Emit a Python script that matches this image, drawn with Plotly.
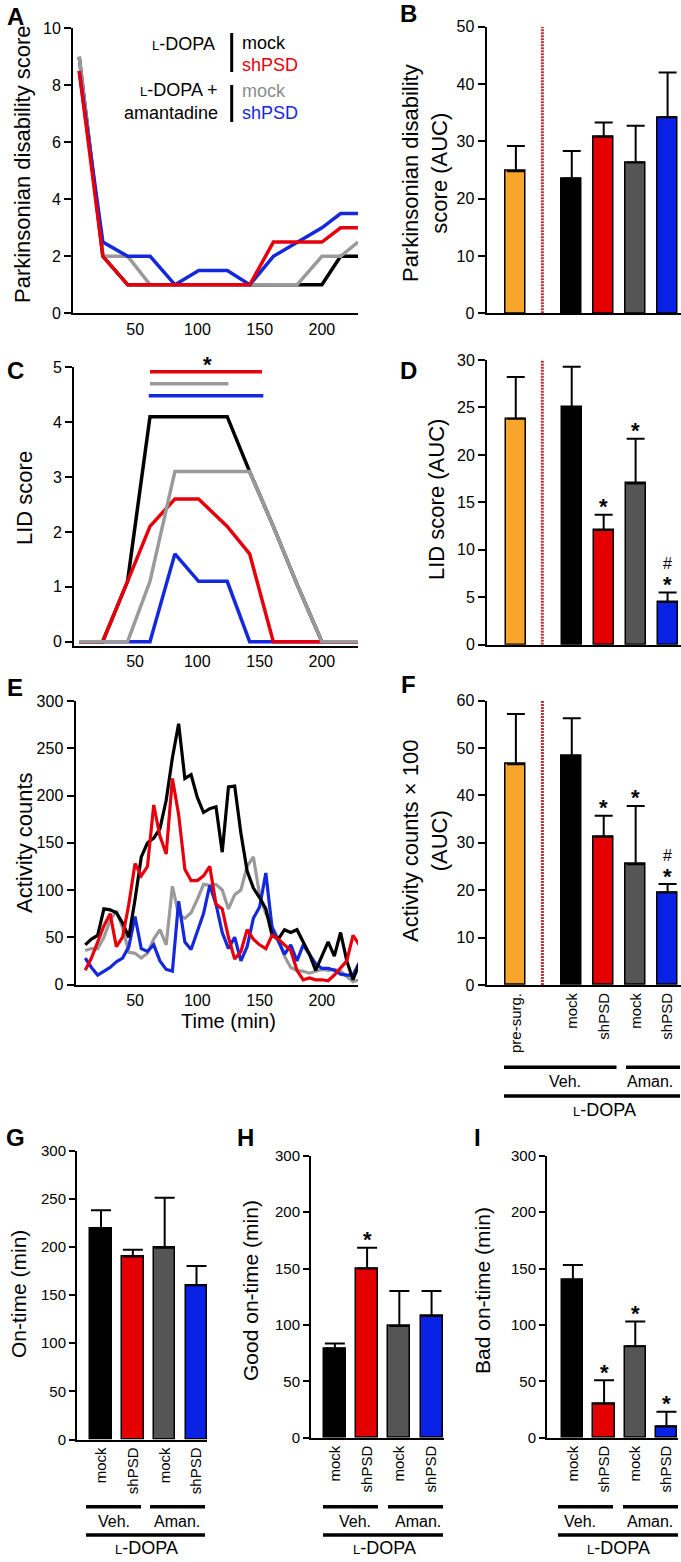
import plotly.graph_objects as go

W, H = 681, 1562
FONT = "Liberation Sans, Arial, Helvetica, sans-serif"

# ---------------- data: time courses ----------------
score_time = [5, 24, 44, 62, 82, 101, 124, 142, 161, 180, 200, 215, 229]
pd_veh_mock = [9, 2, 1, 1, 1, 1, 1, 1, 1, 1, 1, 2, 2]
pd_veh_shpsd = [8.5, 2, 1, 1, 1, 1, 1, 1, 2.5, 2.5, 2.5, 3, 3]
pd_aman_mock = [9, 2, 2, 1, 1, 1, 1, 1, 1, 1, 2, 2, 2.5]
pd_aman_shpsd = [8.5, 2.5, 2, 2, 1, 1.5, 1.5, 1, 2, 2.5, 3, 3.5, 3.5]

lid_veh_mock = [0, 0, 1.1, 4.1, 4.1, 4.1, 4.1, 3.1, 2.1, 1.05, 0, 0, 0]
lid_veh_shpsd = [0, 0, 1.1, 2.1, 2.6, 2.6, 2.1, 1.6, 0, 0, 0, 0, 0]
lid_aman_mock = [0, 0, 0, 1.1, 3.1, 3.1, 3.1, 3.1, 2.1, 1.05, 0, 0, 0]
lid_aman_shpsd = [0, 0, 0, 0, 1.6, 1.1, 1.1, 0, 0, 0, 0, 0, 0]

# significant time spans (min) in the LID time course, and their bar levels
lid_sig_span = {"veh_shpsd": [62, 152], "aman_mock": [62, 125], "aman_shpsd": [61, 153]}
lid_sig_level = {"veh_shpsd": 4.92, "aman_mock": 4.70, "aman_shpsd": 4.48}
lid_sig_star = [103, 5.12]

act_time = [10, 15, 20, 25, 30, 35, 40, 45, 50, 55, 60, 65, 70, 75, 80, 85, 90, 95,
            100, 105, 110, 115, 120, 125, 130, 135, 140, 145, 150, 155, 160, 165,
            170, 175, 180, 185, 190, 195, 200, 205, 210, 215, 220, 225, 230]
act_veh_mock = [42, 48, 52, 80, 79, 76, 65, 50, 90, 135, 150, 155, 165, 195, 240, 276,
                218, 222, 198, 182, 186, 188, 140, 209, 210, 160, 120, 102, 92, 80,
                52, 48, 58, 55, 58, 45, 32, 15, 30, 45, 30, 55, 25, 5, 22]
act_veh_shpsd = [15, 28, 45, 62, 75, 40, 50, 85, 128, 115, 125, 190, 157, 138, 218, 180,
                 122, 110, 110, 115, 125, 85, 80, 50, 27, 35, 58, 48, 42, 38,
                 52, 48, 42, 36, 15, 5, 7, 5, 5, 4, 10, 18, 25, 52, 42]
act_aman_mock = [36, 38, 38, 50, 68, 78, 60, 34, 33, 28, 33, 48, 58, 42, 104, 74,
                 70, 76, 90, 106, 105, 106, 100, 80, 95, 100, 125, 135, 95, 75,
                 62, 48, 30, 18, 15, 14, 12, 14, 16, 15, 16, 14, 8, 3, 5]
act_aman_shpsd = [28, 18, 10, 14, 18, 24, 28, 40, 72, 38, 35, 42, 25, 16, 14, 88,
                  45, 37, 55, 75, 105, 85, 55, 38, 50, 25, 40, 70, 82, 118,
                  60, 45, 32, 42, 25, 42, 32, 22, 17, 17, 15, 11, 10, 10, 23]

# ---------------- data: AUC bars ----------------
auc_groups = ["pre-surg.", "mock", "shPSD", "mock", "shPSD"]
pd_auc = [24.8, 23.5, 30.8, 26.3, 34.2]
pd_auc_sem = [4.4, 4.8, 2.5, 6.4, 7.8]
lid_auc = [23.8, 25.0, 12.1, 17.0, 4.5]
lid_auc_sem = [4.4, 4.3, 1.6, 4.7, 1.0]
lid_auc_sig = ["", "", "*", "*", "*#"]
act_auc = [46.6, 48.3, 31.3, 25.5, 19.5]
act_auc_sem = [10.6, 8.0, 4.4, 12.3, 1.8]
act_auc_sig = ["", "", "*", "*", "*#"]

ontime_groups = ["mock", "shPSD", "mock", "shPSD"]
on_time = [219, 190, 199, 160]
on_time_sem = [19, 7, 52, 20]
good_on = [79, 150, 99, 108]
good_on_sem = [4.4, 18.5, 31, 22]
good_on_sig = ["", "*", "", ""]
bad_on = [140, 30, 81, 10]
bad_on_sem = [13, 21, 22, 13]
bad_on_sig = ["", "*", "*", "*"]

# ---------------- styling / layout constants ----------------
BLACK, RED, GRAY, BLUE = "#000000", "#e6000c", "#9a9a9a", "#1428dc"
BAR_COLORS = ["#f8a62b", "#000000", "#e40000", "#555555", "#0a22e6"]
AUC_POS = [0, 1.75, 2.75, 3.75, 4.75]
DIVIDER = 0.83
ON_POS = [0, 1, 2, 3]

fig = go.Figure()


def xd(l, r):
    return [l / W, r / W]


def yd(t, b):
    return [1 - b / H, 1 - t / H]


def px(x):
    return x / W


def py(y):
    return 1 - y / H


def add_line(ax, x, y, color, width):
    fig.add_trace(go.Scatter(x=x, y=y, mode="lines", line=dict(color=color, width=width),
                             xaxis="x" + ax, yaxis="y" + ax, showlegend=False, hoverinfo="skip"))


def add_bars(ax, pos, vals, sems, colors, width, capw):
    fig.add_trace(go.Bar(x=pos, y=vals, width=width,
                         marker=dict(color=colors, line=dict(color="black", width=1.5)),
                         error_y=dict(type="data", array=sems, arrayminus=[0] * len(sems),
                                      symmetric=False, color="black", thickness=2, width=capw),
                         xaxis="x" + ax, yaxis="y" + ax, showlegend=False, hoverinfo="skip"))


def add_marks(ax, pos, vals, sems, marks):
    for p, v, s, m in zip(pos, vals, sems, marks):
        if "*" in m:
            fig.add_annotation(text="<b>*</b>", x=p, y=v + s, xref="x" + ax, yref="y" + ax,
                               showarrow=False, yanchor="middle", yshift=8,
                               font=dict(family=FONT, size=22, color="black"))
        if "#" in m:
            fig.add_annotation(text="#", x=p, y=v + s, xref="x" + ax, yref="y" + ax,
                               showarrow=False, yanchor="middle", yshift=29,
                               font=dict(family=FONT, size=16, color="black"))


def note(text, x, y, size, color="black", angle=0, xanchor="center", yanchor="middle", bold=False):
    if bold:
        text = "<b>" + text + "</b>"
    fig.add_annotation(text=text, x=px(x), y=py(y), xref="paper", yref="paper", showarrow=False,
                       font=dict(family=FONT, size=size, color=color), textangle=angle,
                       xanchor=xanchor, yanchor=yanchor)


def hline(x0, x1, y, width=3.5, color="black"):
    fig.add_shape(type="line", xref="paper", yref="paper", x0=px(x0), x1=px(x1), y0=py(y), y1=py(y),
                  line=dict(color=color, width=width))


def vline(x, y0, y1, width=3, color="black"):
    fig.add_shape(type="line", xref="paper", yref="paper", x0=px(x), x1=px(x), y0=py(y0), y1=py(y1),
                  line=dict(color=color, width=width))


LDOPA = '<span style="font-size:13px">L</span>-DOPA'

# ---------------- A: Parkinsonian disability time course ----------------
add_line("", score_time, pd_veh_mock, BLACK, 3.5)
add_line("", score_time, pd_aman_mock, GRAY, 3.5)
add_line("", score_time, pd_aman_shpsd, BLUE, 3.5)
add_line("", score_time, pd_veh_shpsd, RED, 3.5)

# ---------------- B ----------------
add_bars("2", AUC_POS, pd_auc, pd_auc_sem, BAR_COLORS, 0.63, 9)

# ---------------- C: LID time course ----------------
add_line("3", score_time, lid_veh_mock, BLACK, 3.5)
add_line("3", score_time, lid_aman_shpsd, BLUE, 3.5)
add_line("3", score_time, lid_veh_shpsd, RED, 3.5)
add_line("3", score_time, lid_aman_mock, GRAY, 3.5)
for key, col in [("veh_shpsd", RED), ("aman_mock", GRAY), ("aman_shpsd", BLUE)]:
    add_line("3", lid_sig_span[key], [lid_sig_level[key]] * 2, col, 3.5)

# ---------------- D ----------------
add_bars("4", AUC_POS, lid_auc, lid_auc_sem, BAR_COLORS, 0.63, 9)
add_marks("4", AUC_POS, lid_auc, lid_auc_sem, lid_auc_sig)

# ---------------- E: activity time course ----------------
add_line("5", act_time, act_aman_mock, GRAY, 3.2)
add_line("5", act_time, act_aman_shpsd, BLUE, 3.2)
add_line("5", act_time, act_veh_mock, BLACK, 3.2)
add_line("5", act_time, act_veh_shpsd, RED, 3.2)

# ---------------- F ----------------
add_bars("6", AUC_POS, act_auc, act_auc_sem, BAR_COLORS, 0.63, 9)
add_marks("6", AUC_POS, act_auc, act_auc_sem, act_auc_sig)

# ---------------- G, H, I ----------------
add_bars("7", ON_POS, on_time, on_time_sem, BAR_COLORS[1:], 0.68, 10)
add_bars("8", ON_POS, good_on, good_on_sem, BAR_COLORS[1:], 0.68, 10)
add_marks("8", ON_POS, good_on, good_on_sem, good_on_sig)
add_bars("9", ON_POS, bad_on, bad_on_sem, BAR_COLORS[1:], 0.68, 10)
add_marks("9", ON_POS, bad_on, bad_on_sem, bad_on_sig)

# dotted separators in B, D, F
for ax, top in [("2", 50), ("4", 30), ("6", 60)]:
    fig.add_shape(type="line", xref="x" + ax, yref="y" + ax, x0=DIVIDER, x1=DIVIDER, y0=0, y1=top,
                  line=dict(color="#b8323a", width=3, dash="2px,1px"))

# ---------------- axes ----------------
AX = dict(showline=True, linecolor="black", linewidth=2, showgrid=False, zeroline=False,
          automargin=False, fixedrange=True, tickcolor="black")
TF16 = dict(family=FONT, size=16, color="black")
TF15 = dict(family=FONT, size=15, color="black")

YT = dict(ticks="outside", ticklen=7, tickwidth=2, tickfont=TF16)
XT = dict(ticks="", tickfont=TF16)

layout_axes = {
    # A
    "xaxis": dict(AX, **XT, domain=xd(73, 358), range=[0, 229], tickvals=[50, 100, 150, 200], anchor="y"),
    "yaxis": dict(AX, **YT, domain=yd(28.3, 313.3), range=[0, 10], tickvals=[0, 2, 4, 6, 8, 10], anchor="x"),
    # B
    "xaxis2": dict(AX, domain=xd(486.5, 681), range=[-0.92, 5.17], showticklabels=False, ticks="", anchor="y2"),
    "yaxis2": dict(AX, **YT, domain=yd(26.7, 313.3), range=[0, 50], tickvals=[0, 10, 20, 30, 40, 50], anchor="x2"),
    # C
    "xaxis3": dict(AX, **XT, domain=xd(74, 358), range=[1, 229], tickvals=[50, 100, 150, 200], anchor="y3"),
    "yaxis3": dict(AX, **YT, domain=yd(367.3, 645.5), range=[-0.07, 5], tickvals=[0, 1, 2, 3, 4, 5], anchor="x3"),
    # D
    "xaxis4": dict(AX, domain=xd(487, 681), range=[-0.9, 5.17], showticklabels=False, ticks="", anchor="y4"),
    "yaxis4": dict(AX, **YT, domain=yd(360, 644.8), range=[0, 30], tickvals=[0, 5, 10, 15, 20, 25, 30], anchor="x4"),
    # E
    "xaxis5": dict(AX, **XT, domain=xd(75.5, 358), range=[2.2, 229], tickvals=[50, 100, 150, 200], anchor="y5"),
    "yaxis5": dict(AX, **YT, domain=yd(701, 984.5), range=[0, 300], tickvals=[0, 50, 100, 150, 200, 250, 300], anchor="x5"),
    # F
    "xaxis6": dict(AX, domain=xd(486.5, 681), range=[-0.92, 5.17], ticks="", tickvals=AUC_POS,
                   ticktext=auc_groups, tickangle=-90, tickfont=TF15, anchor="y6"),
    "yaxis6": dict(AX, **YT, domain=yd(700.7, 985), range=[0, 60], tickvals=[0, 10, 20, 30, 40, 50, 60], anchor="x6"),
    # G
    "xaxis7": dict(AX, domain=xd(77, 207), range=[-0.755, 3.33], ticks="", tickvals=ON_POS,
                   ticktext=ontime_groups, tickangle=-90, tickfont=TF15, anchor="y7"),
    "yaxis7": dict(AX, ticks="outside", ticklen=6, tickwidth=2, tickfont=TF15, domain=yd(1150.5, 1439.5),
                   range=[0, 300], tickvals=[0, 50, 100, 150, 200, 250, 300], anchor="x7"),
    # H
    "xaxis8": dict(AX, domain=xd(311, 443.5), range=[-0.74, 3.37], ticks="", tickvals=ON_POS,
                   ticktext=ontime_groups, tickangle=-90, tickfont=TF15, anchor="y8"),
    "yaxis8": dict(AX, ticks="outside", ticklen=6, tickwidth=2, tickfont=TF15, domain=yd(1155.7, 1437.7),
                   range=[0, 250], tickvals=[0, 50, 100, 150, 200, 250],
                   ticktext=["0", "50", "100", "150", "200", "300"], anchor="x8"),
    # I
    "xaxis9": dict(AX, domain=xd(547, 678), range=[-0.83, 3.37], ticks="", tickvals=ON_POS,
                   ticktext=ontime_groups, tickangle=-90, tickfont=TF15, anchor="y9"),
    "yaxis9": dict(AX, ticks="outside", ticklen=6, tickwidth=2, tickfont=TF15, domain=yd(1155.7, 1437.7),
                   range=[0, 250], tickvals=[0, 50, 100, 150, 200, 250],
                   ticktext=["0", "50", "100", "150", "200", "300"], anchor="x9"),
}

fig.update_layout(width=W, height=H, margin=dict(l=0, r=0, t=0, b=0),
                  paper_bgcolor="white", plot_bgcolor="white", showlegend=False,
                  bargap=0, font=dict(family=FONT, color="black"), **layout_axes)

# C significance star (converted from data to paper coordinates)
c_x0, c_x1 = xd(74, 358)
c_y0, c_y1 = yd(367.3, 645.5)
star_xp = c_x0 + (lid_sig_star[0] - 1) / (229 - 1) * (c_x1 - c_x0)
star_yp = c_y0 + (lid_sig_star[1] + 0.07) / 5.07 * (c_y1 - c_y0)
fig.add_annotation(text="<b>*</b>", x=star_xp, y=star_yp, xref="paper", yref="paper", showarrow=False,
                   yanchor="middle", yshift=-4, font=dict(family=FONT, size=22, color="black"))

# ---------------- panel letters ----------------
for letter, x, y in [("A", 15, 17), ("B", 408, 13), ("C", 15, 370), ("D", 408, 370),
                     ("E", 15, 687), ("F", 408, 685), ("G", 15, 1137), ("H", 245, 1137), ("I", 477, 1137)]:
    note(letter, x, y, 24, bold=True)

# ---------------- axis titles ----------------
note("Parkinsonian disability score", 22, 164, 22, angle=-90)
note("Parkinsonian disability<br>score (AUC)", 425, 173, 22, angle=-90)
note("LID score", 24, 498, 22, angle=-90)
note("LID score (AUC)", 436, 500, 22, angle=-90)
note("Activity counts", 24, 843, 22, angle=-90)
note("Activity counts × 100<br>(AUC)", 425, 841, 22, angle=-90)
note("Time (min)", 228, 1021, 20)
note("On-time (min)", 18, 1294, 21, angle=-90)
note("Good on-time (min)", 250, 1291, 21, angle=-90)
note("Bad on-time (min)", 482, 1290, 21, angle=-90)

# ---------------- legend in A ----------------
note(LDOPA, 217, 44, 18, xanchor="right")
vline(231.7, 33, 72)
note("mock", 240, 43, 18, color=BLACK, xanchor="left")
note("shPSD", 240, 65, 18, color=RED, xanchor="left")
note(LDOPA + " +", 219, 90, 18, xanchor="right")
note("amantadine", 220, 113, 18, xanchor="right")
vline(231.7, 85, 122)
note("mock", 240, 90.7, 18, color="#8c8c8c", xanchor="left")
note("shPSD", 240, 113, 18, color=BLUE, xanchor="left")

# ---------------- group brackets ----------------
# F
hline(504, 616.5, 1067.3)
hline(626, 680, 1067.3)
note("Veh.", 565, 1081.7, 16)
note("Aman.", 650, 1081.7, 16)
hline(504, 680, 1096)
note(LDOPA, 604, 1110, 18)
# G, H, I
for (v0, v1, a0, a1, vt, at, lt) in [(86, 141, 150, 205, 114, 177, 146),
                                      (323, 378, 388, 443, 355, 418, 385),
                                      (558, 613, 623, 678, 580, 650, 618)]:
    hline(v0, v1, 1506.7)
    hline(a0, a1, 1506.7)
    note("Veh.", vt, 1521, 16)
    note("Aman.", at, 1521, 16)
    hline(v0, a1, 1535)
    note(LDOPA, lt, 1548, 18)

fig.write_html("out.html", config={"displayModeBar": False},
               post_script="document.body.style.margin='0px';document.body.style.overflow='hidden';")
